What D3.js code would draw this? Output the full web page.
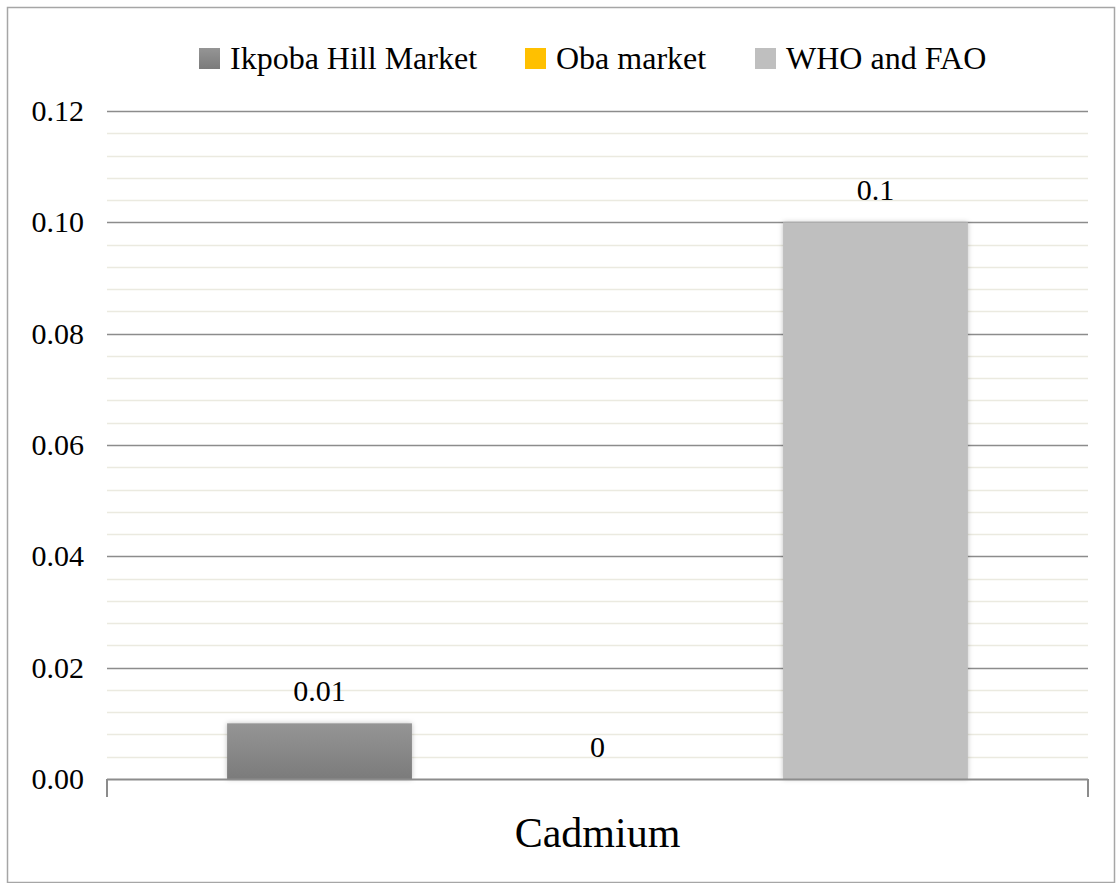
<!DOCTYPE html>
<html>
<head>
<meta charset="utf-8">
<script src="https://cdn.jsdelivr.net/npm/d3@7/dist/d3.min.js"></script>
<style>
  html, body { margin: 0; padding: 0; background: #fff; }
  svg { display: block; }
  svg text { font-family: "Liberation Serif", "Times New Roman", serif; }
</style>
</head>
<body>
<svg id="chart" width="1116" height="883"></svg>
<script>
// Cadmium concentration by source
const category = "Cadmium";
const seriesNames = ["Ikpoba Hill Market", "Oba market", "WHO and FAO"];
const seriesValues = [0.01, 0, 0.1];
const valueLabels = ["0.01", "0", "0.1"];
const seriesColors = ["#8a8a8a", "#ffc000", "#bfbfbf"];
const majorTicks = [0, 0.02, 0.04, 0.06, 0.08, 0.10, 0.12];
const minorStep = 0.004;

const svg = d3.select("#chart");
const W = 1116, H = 883;

// outer frame
svg.append("rect")
  .attr("x", 7.5).attr("y", 7.5)
  .attr("width", W - 9).attr("height", H - 8)
  .attr("fill", "#fff").attr("stroke", "#a6a6a6").attr("stroke-width", 1.5);

const plot = { left: 107, right: 1088, top: 111, bottom: 779 };

const y = d3.scaleLinear().domain([0, 0.12]).range([plot.bottom, plot.top]);
const xOuter = d3.scaleBand().domain([category]).range([plot.left, plot.right]).paddingInner(0).paddingOuter(0);
const xInner = d3.scaleBand().domain(seriesNames)
  .range([0, xOuter.bandwidth()]).paddingInner(0.335).paddingOuter(0.432);

const defs = svg.append("defs");
const g1 = defs.append("linearGradient").attr("id", "gradDark")
  .attr("x1", 0).attr("y1", 0).attr("x2", 0).attr("y2", 1);
g1.append("stop").attr("offset", "0%").attr("stop-color", "#959595");
g1.append("stop").attr("offset", "100%").attr("stop-color", "#7b7b7b");
const shadow = defs.append("filter").attr("id", "barShadow")
  .attr("x", "-10%").attr("y", "-10%").attr("width", "120%").attr("height", "120%");
shadow.append("feDropShadow").attr("dx", 0).attr("dy", 0).attr("stdDeviation", 2.5)
  .attr("flood-color", "#000").attr("flood-opacity", 0.25);

// minor gridlines
const minorVals = d3.range(0, 0.12 + 1e-9, minorStep)
  .filter(v => majorTicks.every(t => Math.abs(t - v) > 1e-9));
svg.append("g").selectAll("line").data(minorVals).join("line")
  .attr("x1", plot.left).attr("x2", plot.right)
  .attr("y1", d => Math.round(y(d)) + 0.5).attr("y2", d => Math.round(y(d)) + 0.5)
  .attr("stroke", "#ebeae0").attr("stroke-width", 1.5);

// major gridlines
svg.append("g").selectAll("line").data(majorTicks.filter(t => t > 0)).join("line")
  .attr("x1", plot.left).attr("x2", plot.right)
  .attr("y1", d => Math.round(y(d)) + 0.5).attr("y2", d => Math.round(y(d)) + 0.5)
  .attr("stroke", "#8c8c8c").attr("stroke-width", 1.5);

// y axis labels
const yAxis = d3.axisLeft(y).tickValues(majorTicks).tickSize(0).tickPadding(23)
  .tickFormat(d3.format(".2f"));
const yg = svg.append("g").attr("transform", `translate(${plot.left},0)`).call(yAxis)
  .attr("font-size", 30);
yg.select(".domain").remove();
yg.selectAll("text").attr("fill", "#000");

// bars
const bars = svg.append("g");
seriesNames.forEach((name, i) => {
  const x0 = xOuter(category) + xInner(name);
  const v = seriesValues[i];
  if (v > 0) {
    bars.append("rect")
      .attr("x", x0).attr("width", xInner.bandwidth())
      .attr("y", y(v)).attr("height", y(0) - y(v))
      .attr("fill", i === 0 ? "url(#gradDark)" : seriesColors[i])
      .attr("filter", "url(#barShadow)");
  }
  svg.append("text")
    .attr("x", x0 + xInner.bandwidth() / 2)
    .attr("y", y(v) - 22)
    .attr("text-anchor", "middle")
    .attr("font-size", 30)
    .text(valueLabels[i]);
});

// category axis
const xg = svg.append("g");
xg.append("line").attr("x1", plot.left).attr("x2", plot.right)
  .attr("y1", plot.bottom + 0.5).attr("y2", plot.bottom + 0.5)
  .attr("stroke", "#8c8c8c").attr("stroke-width", 2);
[plot.left, plot.right].forEach(xx => {
  xg.append("line").attr("x1", xx).attr("x2", xx)
    .attr("y1", plot.bottom).attr("y2", plot.bottom + 18)
    .attr("stroke", "#8c8c8c").attr("stroke-width", 2);
});
svg.append("text")
  .attr("x", xOuter(category) + xOuter.bandwidth() / 2)
  .attr("y", 847)
  .attr("text-anchor", "middle")
  .attr("font-size", 42)
  .text(category);

// legend
const legendX = [199, 525, 755];
const legend = svg.append("g");
seriesNames.forEach((name, i) => {
  const lg = legend.append("g").attr("transform", `translate(${legendX[i]},48)`);
  lg.append("rect").attr("width", 21).attr("height", 21)
    .attr("fill", i === 0 ? "url(#gradDark)" : seriesColors[i]);
  lg.append("text").attr("x", 31).attr("y", 21)
    .attr("font-size", 32).text(name);
});
</script>
</body>
</html>
